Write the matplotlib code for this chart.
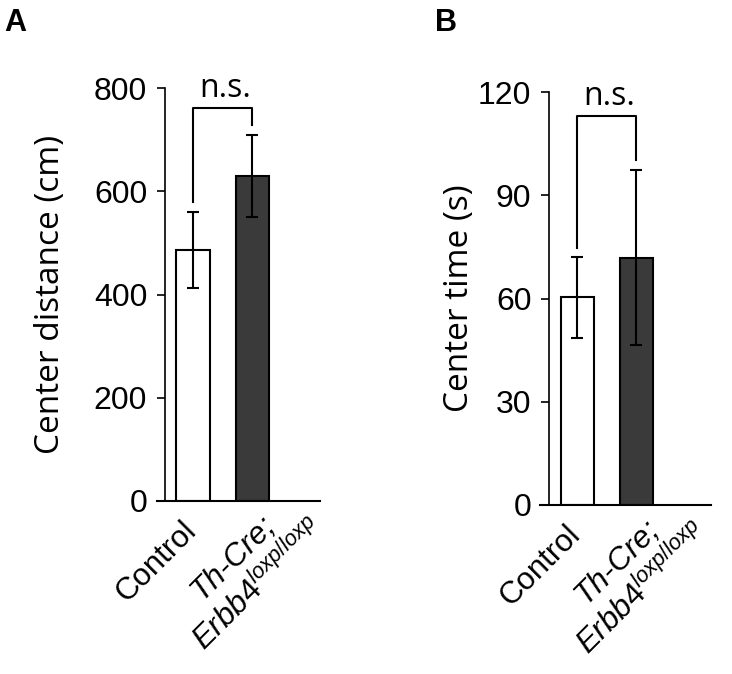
import numpy as np
import matplotlib
matplotlib.use('Agg')
import matplotlib.pyplot as plt

plt.rcParams['mathtext.fontset'] = 'custom'
plt.rcParams['mathtext.rm'] = 'Liberation Sans'
plt.rcParams['mathtext.it'] = 'Liberation Sans:italic'

# each category label as its lines
groups = [['Control'], ['Th-Cre;', '$\\mathit{Erbb4}^{loxp/loxp}$']]
group_styles = [['normal'], ['italic', 'normal']]
dist_mean = [486, 630]
dist_err = [74, 79]
time_mean = [60.3, 71.9]
time_err = [11.8, 25.4]

bar_colors = ['white', '#3a3a3a']
tick_font = 'Liberation Sans'
label_font = 'Open Sans'

fig = plt.figure(figsize=(7.32, 6.74), dpi=100)

def draw_panel(rect, means, errs, ylim, yticks, ylabel, xlim, spine_x, label_x, bracket, letter, letter_pos):
    ax = fig.add_axes(rect)
    # spine position first, it resets the ticks
    for s in ['top', 'right']:
        ax.spines[s].set_visible(False)
    ax.spines['left'].set_position(('data', spine_x))
    ax.spines['left'].set_linewidth(1.2)
    ax.spines['bottom'].set_linewidth(1.5)

    x = np.arange(len(means))
    ax.bar(x, means, width=0.56, color=bar_colors, edgecolor='black', linewidth=1.5, zorder=2)
    ax.errorbar(x, means, yerr=errs, fmt='none', ecolor='black', elinewidth=1.5,
                capsize=4, capthick=1.5, zorder=3)
    ax.set_xlim(*xlim)
    ax.set_ylim(*ylim)
    ax.set_yticks(yticks)
    ax.set_yticklabels([str(t) for t in yticks], fontsize=23, family=tick_font)
    ax.tick_params(axis='y', length=6, width=1.2, pad=7)
    ax.set_xticks([])
    ax.set_ylabel(ylabel, fontsize=24, family=label_font)
    ax.yaxis.set_label_coords(label_x, 0.5)

    # x labels, rotated, one text per line
    offsets = [[(-26.3, -43.6)], [(-13.7, -41.0), (5.0, -60.5)]]
    for xi, lines, styles, offs in zip(x, groups, group_styles, offsets):
        for lab, st, off in zip(lines, styles, offs):
            ax.annotate(lab, xy=(xi, 0), xycoords=('data', 'axes fraction'),
                        xytext=off, textcoords='offset points', rotation=45,
                        rotation_mode='anchor', ha='center', va='center',
                        fontsize=22.5, family=tick_font, fontstyle=st,
                        annotation_clip=False)

    # significance bracket
    top, left_end, right_end = bracket
    ax.plot([0, 0, 1, 1], [left_end, top, top, right_end], color='black',
            linewidth=1.5, clip_on=False)
    ax.text(0.55, top + (ylim[1] - ylim[0]) * 0.026, 'n.s.', ha='center', va='baseline',
            fontsize=23, family=label_font)
    fig.text(letter_pos[0], letter_pos[1], letter, fontsize=22, fontweight='bold',
             family=tick_font, ha='left', va='top')
    return ax

draw_panel([157 / 732, 173 / 674, 163 / 732, 413 / 674], dist_mean, dist_err,
           (0, 800), [0, 200, 400, 600, 800], 'Center distance (cm)',
           (-0.61, 2.15), -0.47, -0.55, (761, 580, 728), 'A', (4 / 732, 1 - 8 / 674))

draw_panel([540 / 732, 169 / 674, 171 / 732, 413 / 674], time_mean, time_err,
           (0, 120), [0, 30, 60, 90, 120], 'Center time (s)',
           (-0.63, 2.27), -0.47, -0.374, (113.1, 74.6, 100.2), 'B', (435 / 732, 1 - 8 / 674))

fig.savefig('out.png', dpi=100)
